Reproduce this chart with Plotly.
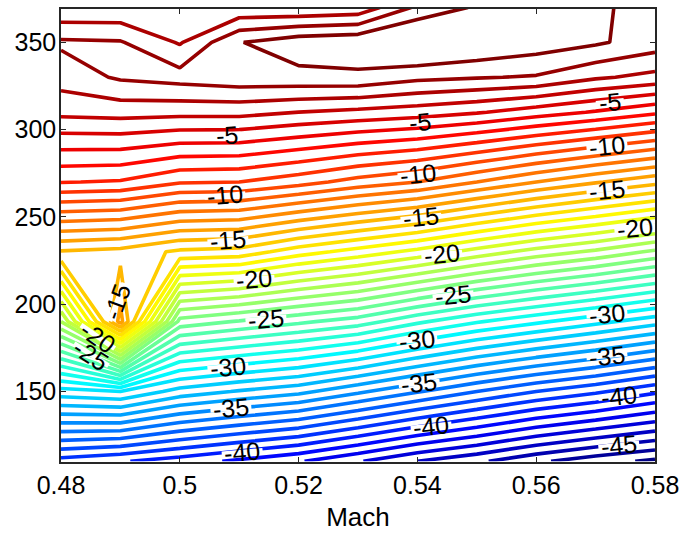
import math
import plotly.graph_objects as go

mach = [0.48, 0.49, 0.50, 0.51, 0.52, 0.53, 0.54, 0.55, 0.56, 0.57, 0.58]
altitude = [110, 150, 190, 230, 270, 310, 330, 350, 370]

# Field values per Mach column, one per altitude row
z_m048 = [-39.4, -31.4, -22.0, -15.1, -7.95, -3.72, -2.55, -1.84, -3.85]
z_m049 = [-39.9, -31.0, -13.6, -15.35, -8.1, -3.6, -1.86, -1.92, -3.85]
z_m050 = [-40.5, -32.4, -24.4, -16.2, -8.9, -3.67, -1.6, -3.1, -3.8]
z_m051 = [-41.2, -33.1, -25.1, -16.4, -9.0, -3.67, -1.36, -1.05, -3.82]
z_m052 = [-41.9, -33.7, -25.8, -17.55, -9.6, -4.0, -1.3, -0.4, -3.9]
z_m053 = [-42.9, -34.8, -26.5, -18.4, -10.4, -4.25, -1.24, -0.2, -3.7]
z_m054 = [-44.0, -35.9, -27.8, -19.3, -11.0, -4.5, -1.75, 0.53, -1.8]
z_m055 = [-44.8, -37.0, -28.9, -20.4, -12.0, -4.9, -1.93, 0.0, -0.86]
z_m056 = [-45.8, -38.0, -29.8, -21.4, -13.0, -5.5, -2.09, -0.43, -0.5]
z_m057 = [-46.6, -38.8, -30.7, -22.2, -13.9, -6.1, -2.85, -0.85, -0.6]
z_m058 = [-47.2, -39.8, -31.6, -23.2, -14.7, -6.8, -3.3, -1.48, -1.9]

columns = [z_m048, z_m049, z_m050, z_m051, z_m052, z_m053,
           z_m054, z_m055, z_m056, z_m057, z_m058]
z_grid = [list(row) for row in zip(*columns)]

x_ticks = [0.48, 0.5, 0.52, 0.54, 0.56, 0.58]
x_tick_text = ["0.48", "0.5", "0.52", "0.54", "0.56", "0.58"]
y_ticks = [150, 200, 250, 300, 350]

label_text = ["-5", "-10", "-15", "-20", "-25", "-30", "-35", "-40",
              "-15", "-20", "-25",
              "-5", "-10", "-15", "-20", "-25", "-30", "-35", "-40",
              "-5", "-10", "-15", "-20", "-30", "-35", "-40", "-45"]
label_x = [.5079, .5076, .5081, .5125, .5145, .5081, .5086, .5105,
           .4894, .4862, .4851,
           .5404, .5401, .5406, .5441, .5460, .5399, .5403, .5423,
           .5724, .5719, .5719, .5766, .5719, .5719, .5739, .5739]
label_y = [297, 262.3, 236.6, 214.4, 191.6, 164.2, 140.3, 115.2,
           201.3, 181.3, 171.1,
           304.4, 274.8, 249.7, 228.6, 205.3, 179.6, 154.6, 130.1,
           315.8, 290.7, 265.7, 243.4, 194.4, 170.5, 147.2, 119.2]
label_angle = [-4, -5, -5, -5, -5, -5, -5, -5,
               -70, 35, 33,
               -6, -6, -6, -6, -6, -6, -6, -6,
               -6, -6, -6, -6, -6, -6, -6, -6]

jet = [[0.0, "#000084"], [0.125, "#0000ff"], [0.375, "#00ffff"],
       [0.625, "#ffff00"], [0.875, "#ff0000"], [1.0, "#800000"]]

FONT = "Liberation Sans, Arial, sans-serif"
PLOT_W, PLOT_H = 594, 455.5
X_RANGE = [0.48, 0.58]
Y_RANGE = [109.6, 369.1]
PX_X = PLOT_W / (X_RANGE[1] - X_RANGE[0])
PX_Y = PLOT_H / (Y_RANGE[1] - Y_RANGE[0])

fig = go.Figure(go.Contour(
    x=mach, y=altitude, z=z_grid,
    zmin=-47, zmax=-0.5, autocontour=False,
    contours=dict(start=-47, end=-1, size=1, coloring="lines"),
    colorscale=jet, showscale=False,
    line=dict(width=3.6, smoothing=0),
    hoverinfo="skip",
))

# Gap in the labelled line, under each label
for txt, lx, ly, ang in zip(label_text, label_x, label_y, label_angle):
    half = 6.5 * len(txt) + 1
    dx = half * math.cos(math.radians(ang)) / PX_X
    dy = -half * math.sin(math.radians(ang)) / PX_Y
    fig.add_shape(type="line", x0=lx - dx, x1=lx + dx, y0=ly - dy, y1=ly + dy,
                  line=dict(color="white", width=5), layer="above")
    fig.add_annotation(x=lx, y=ly, text=txt, textangle=ang, showarrow=False,
                       font=dict(family=FONT, size=25, color="black"),
                       xanchor="center", yanchor="middle")

axis_style = dict(showgrid=False, zeroline=False, showline=True, mirror="allticks",
                  linecolor="#262626", linewidth=1.5, ticks="inside", ticklen=5,
                  tickcolor="#262626", tickwidth=1,
                  tickfont=dict(family=FONT, size=25, color="black"))

fig.update_xaxes(range=X_RANGE, tickvals=x_ticks, ticktext=x_tick_text,
                 title=dict(text="Mach", font=dict(family=FONT, size=26, color="black"), standoff=10),
                 **axis_style)
fig.update_yaxes(range=Y_RANGE, tickvals=y_ticks, ticklabelstandoff=-2, **axis_style)

fig.update_layout(width=699, height=534, autosize=False,
                  margin=dict(l=61, r=44, t=7.5, b=71, pad=0),
                  paper_bgcolor="white", plot_bgcolor="white", showlegend=False)

fig.write_html("out.html", config=dict(displayModeBar=False),
               post_script="document.body.style.margin='0';")
